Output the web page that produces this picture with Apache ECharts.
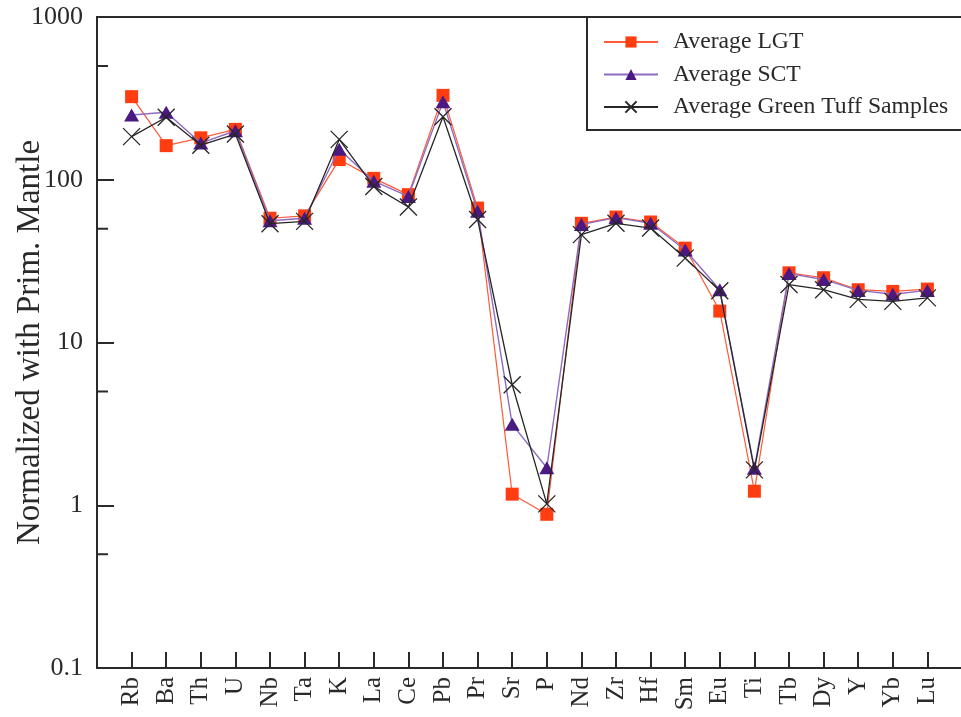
<!DOCTYPE html>
<html>
<head>
<meta charset="utf-8">
<script src="https://cdn.jsdelivr.net/npm/echarts@6/dist/echarts.min.js"></script>
<style>
  html, body { margin: 0; padding: 0; background: #fff; }
  #chart { width: 961px; height: 717px; }
</style>
</head>
<body>
<div id="chart"></div>
<script>
// Trace elements, primitive-mantle normalized (spider diagram order)
const elements = ['Rb', 'Ba', 'Th', 'U', 'Nb', 'Ta', 'K', 'La', 'Ce', 'Pb', 'Pr', 'Sr',
                  'P', 'Nd', 'Zr', 'Hf', 'Sm', 'Eu', 'Ti', 'Tb', 'Dy', 'Y', 'Yb', 'Lu'];

const avgLGT = [324, 162, 181, 204, 58, 60, 133, 102, 81, 330, 67, 1.17,
                0.88, 54, 59, 55, 38, 15.6, 1.22, 26.8, 25, 21.1, 20.6, 21.3];

const avgSCT = [250, 260, 168, 200, 56, 58, 154, 98, 79, 302, 64, 3.14,
                1.70, 53, 58.5, 54, 37, 21.1, 1.69, 26.5, 24.4, 20.9, 19.8, 20.9];

const avgGreenTuff = [184, 242, 163, 191, 53.7, 55.5, 177, 91, 68, 244, 57, 5.5,
                      1.02, 46, 54, 50.5, 33, 20.8, 1.65, 22.7, 21.1, 18.4, 17.9, 18.8];

const seriesNames = ['Average LGT', 'Average SCT', 'Average Green Tuff Samples'];

// Log-axis decade labels and the half-decade minor ticks
const yTickLabels = ['0.1', '1', '10', '100', '1000'];
const minorTickValues = [0.5, 5, 50, 500];

const serif = '"Liberation Serif", "DejaVu Serif", serif';
const ink = '#2a2a2a';

function toPoints(values) {
  return values.map((v, i) => [i + 1, v]);
}

const chart = echarts.init(document.getElementById('chart'), null, { renderer: 'canvas' });

chart.setOption({
  backgroundColor: '#fff',
  animation: false,
  grid: {
    left: 97, top: 17, width: 865, height: 651,
    containLabel: false, outerBoundsMode: 'none',
    show: true, borderColor: ink, borderWidth: 2, backgroundColor: 'transparent'
  },
  legend: {
    data: seriesNames,
    orient: 'vertical',
    left: 587, top: 17,
    padding: [13, 24, 11, 16],
    itemWidth: 54, itemHeight: 14, itemGap: 8.5,
    backgroundColor: '#fff',
    borderColor: ink, borderWidth: 2, borderRadius: 0,
    textStyle: { fontFamily: serif, fontSize: 23.7, color: ink, lineHeight: 24, padding: [0, 0, 0, 10] }
  },
  xAxis: {
    type: 'value', min: 0, max: 25, interval: 1,
    axisLine: { lineStyle: { color: ink, width: 2 } },
    axisTick: { inside: true, length: 16, lineStyle: { color: ink, width: 2 } },
    splitLine: { show: false },
    axisLabel: {
      rotate: 90, margin: 9,
      fontFamily: serif, fontSize: 25, color: ink,
      formatter: v => elements[v - 1] || ''
    }
  },
  yAxis: {
    type: 'log', logBase: 10, min: 0.1, max: 1000,
    name: 'Normalized with Prim. Mantle',
    nameLocation: 'middle', nameGap: 50, nameRotate: 90,
    nameMoveOverlap: false,
    nameTextStyle: { fontFamily: serif, fontSize: 33, color: ink },
    axisLine: { lineStyle: { color: ink, width: 2 } },
    axisTick: { inside: true, length: 17, lineStyle: { color: ink, width: 2 } },
    splitLine: { show: false },
    axisLabel: {
      margin: 14, fontFamily: serif, fontSize: 26, color: ink,
      formatter: v => {
        const s = String(+v.toPrecision(3));
        return yTickLabels.includes(s) ? s : '';
      }
    }
  },
  series: [
    {
      name: seriesNames[0], type: 'line',
      data: toPoints(avgLGT),
      symbol: 'rect', symbolSize: 13,
      lineStyle: { color: '#ff5a3a', width: 1.2 },
      itemStyle: { color: '#ff3d10' },
      z: 3
    },
    {
      name: seriesNames[1], type: 'line',
      data: toPoints(avgSCT),
      symbol: 'triangle', symbolSize: [15, 13],
      lineStyle: { color: '#8c6cc0', width: 1.4 },
      itemStyle: { color: '#4a1a82' },
      z: 4
    },
    {
      name: seriesNames[2], type: 'line',
      data: toPoints(avgGreenTuff),
      symbol: 'path://M0,0L10,10M10,0L0,10', symbolSize: 17,
      lineStyle: { color: '#262626', width: 1.3 },
      itemStyle: { color: 'rgba(0,0,0,0)', borderColor: '#262626', borderWidth: 1.3 },
      z: 5
    },
    {
      // half-decade minor ticks along the left axis
      type: 'custom',
      silent: true,
      data: minorTickValues.map(v => [0, v]),
      renderItem: (params, api) => {
        const p = api.coord([0, api.value(1)]);
        return {
          type: 'line',
          shape: { x1: p[0], y1: p[1], x2: p[0] + 11, y2: p[1] },
          style: { stroke: ink, lineWidth: 2 }
        };
      },
      z: 2
    }
  ]
});
</script>
</body>
</html>
